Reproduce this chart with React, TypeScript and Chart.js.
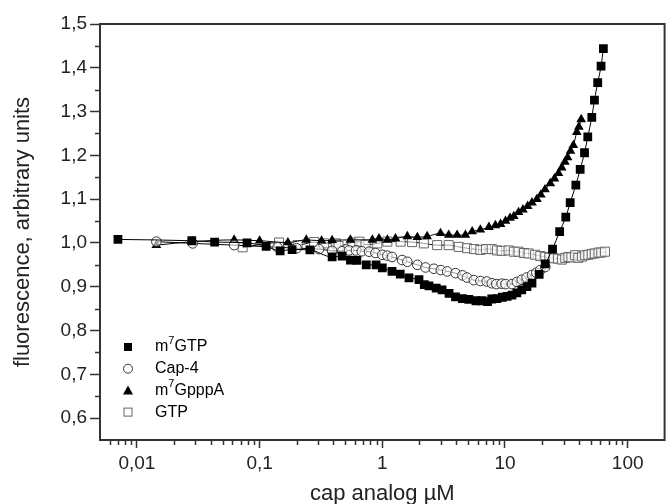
import React, { useEffect, useRef } from "react";
import { Chart, registerables } from "chart.js";

Chart.register(...registerables);

// ---------- data ----------
const m7gtpConc = [0.007, 0.028, 0.043, 0.079, 0.113, 0.147, 0.184, 0.257, 0.39, 0.47, 0.55, 0.62, 0.74, 0.89, 1.0, 1.2, 1.4, 1.65, 1.99, 2.2, 2.4, 2.75, 3.07, 3.5, 3.95, 4.5, 5.07, 5.8, 6.5, 7.2, 7.8, 8.6, 9.5, 10.4, 11.4, 12.5, 13.7, 15.1, 16.6, 19.0, 21.3, 24.4, 27.9, 31.3, 34, 37.8, 41, 44.5, 47.3, 51, 53.6, 57, 60.7, 63.4];
const m7gtpFluor = [1.008, 1.005, 1.002, 1.0, 0.992, 0.982, 0.985, 0.984, 0.968, 0.970, 0.961, 0.960, 0.950, 0.950, 0.943, 0.935, 0.929, 0.920, 0.916, 0.905, 0.902, 0.897, 0.893, 0.885, 0.877, 0.873, 0.871, 0.868, 0.868, 0.866, 0.872, 0.873, 0.876, 0.878, 0.881, 0.886, 0.893, 0.900, 0.908, 0.928, 0.952, 0.986, 1.026, 1.059, 1.092, 1.132, 1.168, 1.206, 1.242, 1.287, 1.326, 1.366, 1.404, 1.444];

const cap4Conc = [0.0144, 0.0285, 0.062, 0.14, 0.2, 0.305, 0.39, 0.47, 0.536, 0.61, 0.68, 0.78, 0.88, 1.0, 1.1, 1.2, 1.45, 1.6, 1.93, 2.25, 2.63, 3.0, 3.38, 3.95, 4.5, 4.9, 5.57, 6.3, 7.1, 7.8, 8.5, 9.4, 10.1, 11.4, 12.5, 13.7, 15.0, 16.6, 18.0, 19.4, 21.3];
const cap4Fluor = [1.003, 0.999, 0.995, 0.990, 0.988, 0.986, 0.982, 0.981, 0.983, 0.983, 0.981, 0.980, 0.977, 0.973, 0.971, 0.968, 0.961, 0.957, 0.950, 0.944, 0.941, 0.938, 0.935, 0.931, 0.926, 0.921, 0.915, 0.913, 0.912, 0.908, 0.906, 0.907, 0.906, 0.906, 0.911, 0.916, 0.921, 0.927, 0.932, 0.938, 0.945];

const m7gpppaConc = [0.0144, 0.0285, 0.062, 0.10, 0.17, 0.24, 0.32, 0.39, 0.55, 0.83, 0.94, 1.1, 1.28, 1.6, 1.93, 2.32, 2.98, 3.48, 4.07, 4.76, 5.4, 6.3, 7.4, 8.35, 9.2, 10.1, 11.0, 11.8, 12.9, 14.0, 15.3, 16.6, 18.2, 19.6, 21.2, 23.4, 25.3, 27.3, 29.0, 30.8, 32.4, 34.2, 36.1, 38.5, 40.0, 41.8];
const m7gpppaFluor = [0.995, 1.003, 1.007, 1.005, 1.001, 1.007, 1.005, 1.006, 1.007, 1.007, 1.010, 1.007, 1.010, 1.015, 1.013, 1.015, 1.022, 1.018, 1.018, 1.018, 1.026, 1.030, 1.036, 1.040, 1.043, 1.050, 1.057, 1.061, 1.070, 1.076, 1.084, 1.092, 1.100, 1.110, 1.122, 1.136, 1.147, 1.159, 1.172, 1.185, 1.195, 1.210, 1.223, 1.253, 1.265, 1.282];

const gtpConc = [0.0727, 0.144, 0.204, 0.278, 0.335, 0.418, 0.44, 0.57, 0.65, 0.73, 0.91, 1.1, 1.41, 1.75, 2.18, 2.8, 3.48, 4.2, 4.9, 5.6, 6.3, 7.0, 7.8, 8.6, 9.4, 10.7, 11.8, 12.9, 14.3, 15.6, 17.6, 19.4, 21.3, 23.0, 24.9, 27.0, 29.1, 31.0, 32.9, 34.8, 37.3, 39.6, 42.4, 45.0, 47.8, 51.0, 54.0, 57.9, 61.0, 65.3];
const gtpFluor = [0.990, 1.001, 0.995, 1.002, 0.999, 0.999, 0.993, 1.001, 1.003, 0.996, 0.999, 1.003, 1.003, 1.002, 0.999, 0.995, 0.995, 0.991, 0.988, 0.986, 0.984, 0.986, 0.986, 0.983, 0.982, 0.983, 0.980, 0.980, 0.977, 0.976, 0.973, 0.970, 0.968, 0.966, 0.965, 0.964, 0.962, 0.966, 0.968, 0.967, 0.972, 0.966, 0.969, 0.972, 0.973, 0.975, 0.976, 0.978, 0.978, 0.980];

const seriesNames = ["m7GTP", "Cap-4", "m7GpppA", "GTP"];
const xTickValues = [0.01, 0.1, 1, 10, 100];
const xTickLabels = ["0,01", "0,1", "1", "10", "100"];
const yTickValues = [0.6, 0.7, 0.8, 0.9, 1.0, 1.1, 1.2, 1.3, 1.4, 1.5];
const yTickLabels = ["0,6", "0,7", "0,8", "0,9", "1,0", "1,1", "1,2", "1,3", "1,4", "1,5"];
const xTitle = "cap analog \u00B5M";
const yTitle = "fluorescence, arbitrary units";

// ---------- styling ----------
const FONT = "'Liberation Sans', Arial, Helvetica, sans-serif";
const AXIS = "#333333";
const TEXT = "#222222";
const X_MIN = 0.005;
const X_MAX = 200;
const Y_MIN = 0.55;
const Y_MAX = 1.5;

type Marker = "fsquare" | "ocircle" | "ftriangle" | "osquare";
const markers: Marker[] = ["fsquare", "ocircle", "ftriangle", "osquare"];

function zip(xs: number[], ys: number[]) {
  return xs.map((x, i) => ({ x, y: ys[i] }));
}

function near(a: number, b: number) {
  return Math.abs(a - b) <= Math.abs(b) * 1e-6 + 1e-9;
}

function drawMarker(ctx: CanvasRenderingContext2D, m: Marker, x: number, y: number) {
  ctx.save();
  ctx.lineWidth = 1;
  if (m === "fsquare") {
    ctx.fillStyle = "#000";
    ctx.fillRect(x - 4, y - 4, 8, 8);
  } else if (m === "osquare") {
    ctx.fillStyle = "#fff";
    ctx.strokeStyle = "#666";
    ctx.fillRect(x - 4, y - 4, 8, 8);
    ctx.strokeRect(x - 4, y - 4, 8, 8);
  } else if (m === "ocircle") {
    ctx.fillStyle = "#fff";
    ctx.strokeStyle = "#333";
    ctx.beginPath();
    ctx.arc(x, y, 4.5, 0, Math.PI * 2);
    ctx.fill();
    ctx.stroke();
  } else {
    ctx.fillStyle = "#000";
    ctx.beginPath();
    ctx.moveTo(x, y - 5);
    ctx.lineTo(x + 5, y + 4);
    ctx.lineTo(x - 5, y + 4);
    ctx.closePath();
    ctx.fill();
  }
  ctx.restore();
}

function drawLabel(ctx: CanvasRenderingContext2D, name: string, x: number, y: number) {
  // draws "m7..." with superscript 7
  ctx.save();
  ctx.fillStyle = "#000";
  ctx.textBaseline = "middle";
  ctx.textAlign = "left";
  const big = `16px ${FONT}`;
  const small = `11px ${FONT}`;
  if (name.startsWith("m7")) {
    ctx.font = big;
    ctx.fillText("m", x, y);
    let cx = x + ctx.measureText("m").width;
    ctx.font = small;
    ctx.fillText("7", cx, y - 6);
    cx += ctx.measureText("7").width;
    ctx.font = big;
    ctx.fillText(name.slice(2), cx, y);
  } else {
    ctx.font = big;
    ctx.fillText(name, x, y);
  }
  ctx.restore();
}

const decorPlugin = {
  id: "decor",
  afterDraw(chart: any) {
    const { ctx, chartArea } = chart;
    const xs = chart.scales.x;
    const ys = chart.scales.y;
    ctx.save();
    // box
    ctx.strokeStyle = AXIS;
    ctx.lineWidth = 2;
    ctx.strokeRect(chartArea.left, chartArea.top, chartArea.right - chartArea.left, chartArea.bottom - chartArea.top);
    // minor ticks
    ctx.lineWidth = 1.5;
    ctx.beginPath();
    xs.ticks.forEach((t: any) => {
      if (xTickValues.some((v) => near(t.value, v))) return;
      const px = Math.round(xs.getPixelForValue(t.value)) + 0.5;
      if (px <= chartArea.left + 1 || px >= chartArea.right - 1) return;
      ctx.moveTo(px, chartArea.bottom);
      ctx.lineTo(px, chartArea.bottom + 5);
    });
    ys.ticks.forEach((t: any) => {
      if (yTickValues.some((v) => near(t.value, v))) return;
      const py = Math.round(ys.getPixelForValue(t.value)) + 0.5;
      if (py >= chartArea.bottom - 1 || py <= chartArea.top + 1) return;
      ctx.moveTo(chartArea.left, py);
      ctx.lineTo(chartArea.left - 5, py);
    });
    ctx.stroke();
    // legend
    const lx = chartArea.left + 28;
    const tx = chartArea.left + 55;
    const ly0 = chartArea.top + 323;
    const step = 21.7;
    seriesNames.forEach((n, i) => {
      const yy = ly0 + i * step;
      drawMarker(ctx, markers[i], lx, yy);
      drawLabel(ctx, n, tx, yy);
    });
    ctx.restore();
  },
};

export default function App() {
  const ref = useRef<HTMLCanvasElement | null>(null);

  useEffect(() => {
    if (!ref.current) return;
    const pointCommon = {
      borderWidth: 1,
      borderColor: "#000",
      showLine: true,
      cubicInterpolationMode: "monotone" as const,
    };
    const chart = new Chart(ref.current, {
      type: "scatter",
      data: {
        datasets: [
          {
            label: seriesNames[0],
            data: zip(m7gtpConc, m7gtpFluor),
            ...pointCommon,
            pointStyle: "rect",
            pointRadius: 6.2,
            pointBackgroundColor: "#000",
            pointBorderColor: "#000",
            pointBorderWidth: 0,
          },
          {
            label: seriesNames[1],
            data: zip(cap4Conc, cap4Fluor),
            ...pointCommon,
            pointStyle: "circle",
            pointRadius: 4.8,
            pointBackgroundColor: "rgba(255,255,255,0.6)",
            pointBorderColor: "#333",
            pointBorderWidth: 1,
          },
          {
            label: seriesNames[2],
            data: zip(m7gpppaConc, m7gpppaFluor),
            ...pointCommon,
            pointStyle: "triangle",
            pointRadius: 5.6,
            pointBackgroundColor: "#000",
            pointBorderColor: "#000",
            pointBorderWidth: 0,
          },
          {
            label: seriesNames[3],
            data: zip(gtpConc, gtpFluor),
            ...pointCommon,
            pointStyle: "rect",
            pointRadius: 6.4,
            pointBackgroundColor: "rgba(255,255,255,0.6)",
            pointBorderColor: "#666",
            pointBorderWidth: 1,
          },
        ],
      },
      options: {
        animation: false,
        responsive: true,
        maintainAspectRatio: false,
        layout: { padding: { top: 24, right: 7, left: 0, bottom: 0 } },
        plugins: {
          legend: { display: false },
          tooltip: { enabled: false },
        },
        scales: {
          x: {
            type: "logarithmic",
            min: X_MIN,
            max: X_MAX,
            afterBuildTicks: (scale: any) => {
              const ticks: any[] = [];
              for (let e = -3; e <= 2; e++) {
                for (let m = 1; m <= 9; m++) {
                  const v = parseFloat((m * Math.pow(10, e)).toPrecision(6));
                  if (v >= X_MIN - 1e-12 && v <= X_MAX + 1e-9) ticks.push({ value: v, major: m === 1 });
                }
              }
              scale.ticks = ticks;
            },
            afterFit: (scale: any) => {
              scale.height = 64;
            },
            ticks: {
              autoSkip: false,
              maxRotation: 0,
              padding: 4,
              color: TEXT,
              font: { family: FONT, size: 19 },
              callback: (value: any) => {
                const i = xTickValues.findIndex((v) => near(Number(value), v));
                return i >= 0 ? xTickLabels[i] : "";
              },
            },
            grid: {
              display: true,
              drawOnChartArea: false,
              drawTicks: true,
              tickLength: 8,
              tickWidth: 1.5,
              tickColor: (c: any) =>
                c.tick && xTickValues.some((v) => near(c.tick.value, v)) ? AXIS : "rgba(0,0,0,0)",
            },
            border: { display: true, color: AXIS, width: 2 },
            title: {
              display: true,
              text: xTitle,
              color: TEXT,
              font: { family: FONT, size: 22 },
              padding: { top: 0, bottom: -3 },
            },
          },
          y: {
            type: "linear",
            min: Y_MIN,
            max: Y_MAX,
            afterBuildTicks: (scale: any) => {
              const ticks: any[] = [];
              for (let k = 0; k <= 19; k++) {
                const v = parseFloat((Y_MIN + k * 0.05).toFixed(2));
                ticks.push({ value: v });
              }
              scale.ticks = ticks;
            },
            afterFit: (scale: any) => {
              scale.width = 100;
            },
            ticks: {
              autoSkip: false,
              padding: 3,
              color: TEXT,
              font: { family: FONT, size: 19 },
              callback: (value: any) => {
                const i = yTickValues.findIndex((v) => near(Number(value), v));
                return i >= 0 ? yTickLabels[i] : "";
              },
            },
            grid: {
              display: true,
              drawOnChartArea: false,
              drawTicks: true,
              tickLength: 10,
              tickWidth: 1.5,
              tickColor: (c: any) =>
                c.tick && yTickValues.some((v) => near(c.tick.value, v)) ? AXIS : "rgba(0,0,0,0)",
            },
            border: { display: true, color: AXIS, width: 2 },
            title: {
              display: true,
              text: yTitle,
              color: TEXT,
              font: { family: FONT, size: 22 },
              padding: { top: 10, bottom: 0 },
            },
          },
        },
      },
      plugins: [decorPlugin],
    });
    return () => chart.destroy();
  }, []);

  return (
    <div style={{ position: "fixed", left: 0, top: 0, width: 672, height: 504, background: "#fff" }}>
      <canvas ref={ref} />
    </div>
  );
}
